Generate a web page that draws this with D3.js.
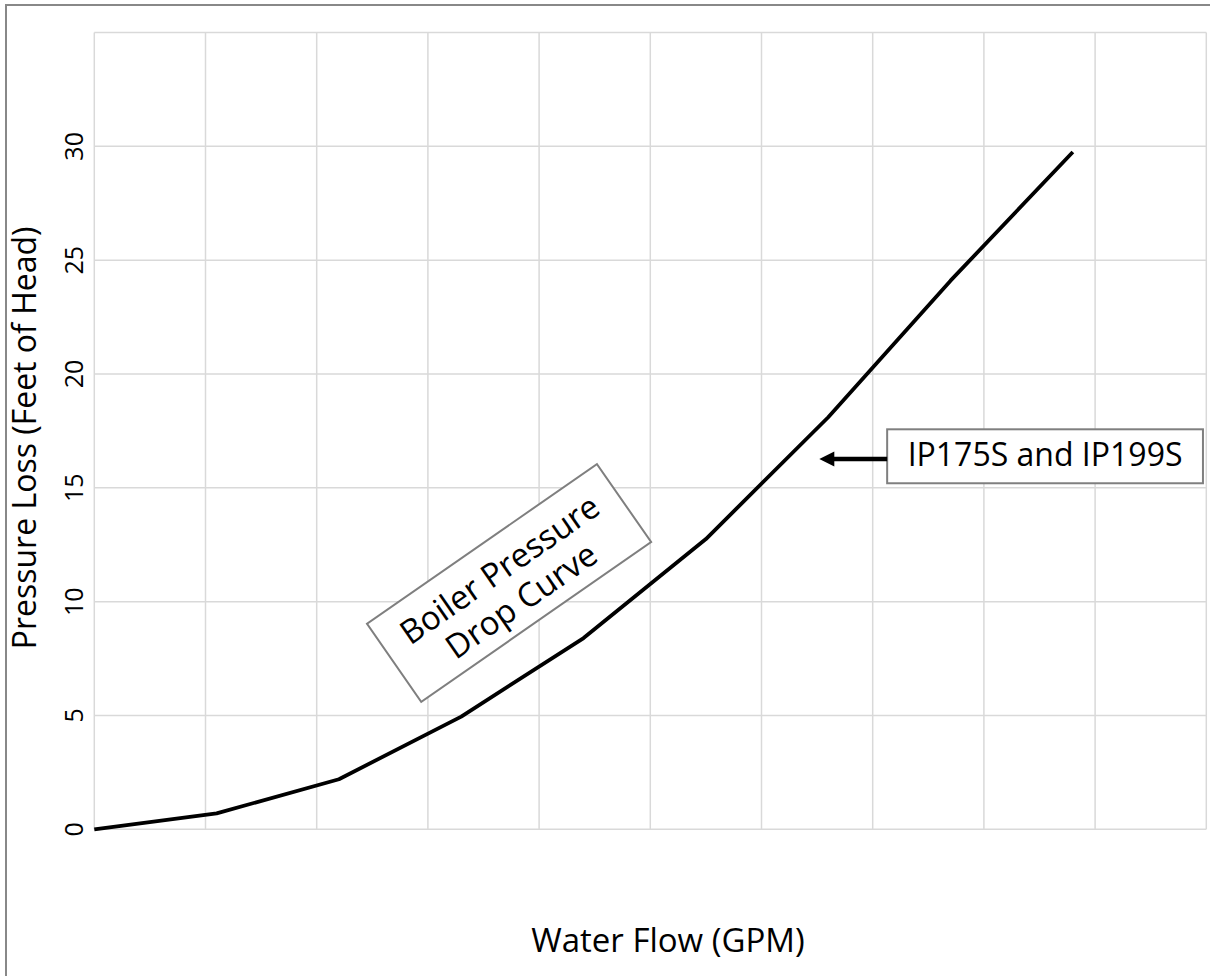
<!DOCTYPE html>
<html>
<head>
<meta charset="utf-8">
<script src="https://cdn.jsdelivr.net/npm/d3@7"></script>
<style>
	body { margin:0; background:#fff; }
	svg text { font-family:"Open Sans", "Noto Sans", sans-serif; fill:#000; }
	.grid line { stroke:#d9d9d9; stroke-width:1.5; }
	.frame { fill:none; stroke:#888; stroke-width:2; }
	.curve { fill:none; stroke:#000; stroke-width:3.8; stroke-linejoin:round; }
	.note_box { fill:#fff; stroke:#7f7f7f; stroke-width:2; }
</style>
</head>
<body>
<svg id="chart" width="1210" height="976"></svg>
<script>
	// flow (gridline units) vs pressure loss
	var flow = [0, 1.1, 2.2, 3.3, 4.4, 5.5, 6.6, 7.7, 8.8];
	var loss = [0, 0.7, 2.2, 4.95, 8.4, 12.75, 18.1, 24.1, 29.75];
	var yTicks = [0, 5, 10, 15, 20, 25, 30, 35];
	var xGrid = d3.range(0, 11, 1);

	(function(){
		var svg = d3.select("#chart"),
			plotL = 94.3, plotR = 1206.3, plotT = 32.5, plotB = 829.3;

		var x = d3.scaleLinear().domain([0, 10]).range([plotL, plotR]);
		var y = d3.scaleLinear().domain([0, 35]).range([plotB, plotT]);

		// outer chart frame (runs off the right and bottom of the picture)
		svg.append("rect")
			.attr("class", "frame")
			.attr("x", 6).attr("y", 5)
			.attr("width", 1300).attr("height", 1100);

		var grid = svg.append("g").attr("class", "grid");
		grid.selectAll(".v")
			.data(xGrid)
			.enter().append("line")
			.attr("x1", function(d){ return x(d); })
			.attr("x2", function(d){ return x(d); })
			.attr("y1", plotT).attr("y2", plotB);
		grid.selectAll(".h")
			.data(yTicks)
			.enter().append("line")
			.attr("y1", function(d){ return y(d); })
			.attr("y2", function(d){ return y(d); })
			.attr("x1", plotL).attr("x2", plotR);

		// rotated tick labels, 35 is left unlabelled like the original
		svg.selectAll(".ytick")
			.data(yTicks.filter(function(d){ return d < 35; }))
			.enter().append("text")
			.attr("class", "ytick")
			.attr("transform", function(d){ return "translate(83," + y(d) + ") rotate(-90)"; })
			.attr("text-anchor", "middle")
			.style("font-size", "25px")
			.text(function(d){ return d; });

		var line = d3.line()
			.x(function(d){ return x(d[0]); })
			.y(function(d){ return y(d[1]); });

		svg.append("path")
			.datum(d3.zip(flow, loss))
			.attr("class", "curve")
			.attr("d", line);

		svg.append("text")
			.attr("transform", "translate(36," + ((plotT + plotB) / 2 + 7) + ") rotate(-90)")
			.attr("text-anchor", "middle")
			.style("font-size", "32px")
			.text("Pressure Loss (Feet of Head)");

		svg.append("text")
			.attr("x", 668).attr("y", 952)
			.attr("text-anchor", "middle")
			.style("font-size", "33px")
			.text("Water Flow (GPM)");

		// tilted "Boiler Pressure Drop Curve" callout
		var tilt = svg.append("g")
			.attr("transform", "translate(" + x(3.73) + "," + y(10.82) + ") rotate(-34.8)");
		tilt.append("rect")
			.attr("class", "note_box")
			.attr("x", -140).attr("y", -47.5)
			.attr("width", 280).attr("height", 95);
		tilt.selectAll("text")
			.data(["Boiler Pressure", "Drop Curve"])
			.enter().append("text")
			.attr("text-anchor", "middle")
			.attr("y", function(d, i){ return i === 0 ? -5 : 33; })
			.style("font-size", "33px")
			.text(function(d){ return d; });

		// model label box with arrow pointing at the curve
		var bx0 = x(7.13), bx1 = x(9.97), by0 = y(17.57), by1 = y(15.2),
			tipX = x(6.52), tipY = y(16.27);
		svg.append("rect")
			.attr("class", "note_box")
			.attr("x", bx0).attr("y", by0)
			.attr("width", bx1 - bx0).attr("height", by1 - by0);
		svg.append("text")
			.attr("x", (bx0 + bx1) / 2).attr("y", by1 - 17)
			.attr("text-anchor", "middle")
			.style("font-size", "32px")
			.text("IP175S and IP199S");
		svg.append("line")
			.attr("x1", bx0).attr("x2", tipX + 12)
			.attr("y1", tipY).attr("y2", tipY)
			.attr("stroke", "#000").attr("stroke-width", 4.5);
		svg.append("path")
			.attr("d", "M" + tipX + "," + tipY + "L" + (tipX + 15) + "," + (tipY - 7.5) + "L" + (tipX + 15) + "," + (tipY + 7.5) + "Z")
			.attr("fill", "#000");
	})();
</script>
</body>
</html>
